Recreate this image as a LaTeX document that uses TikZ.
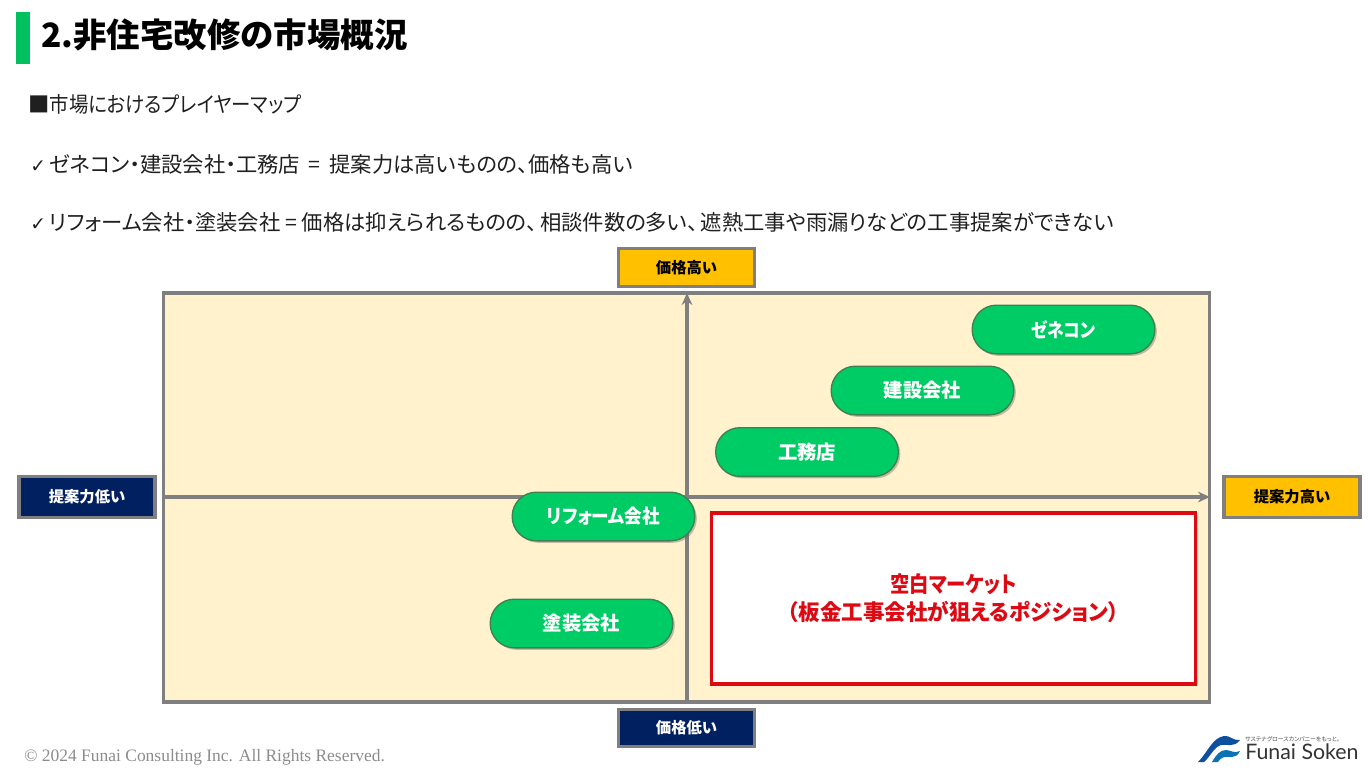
\documentclass[tikz,border=0pt]{standalone}
\usepackage{fontspec}
\setmainfont[RawFeature=+palt]{Noto Sans CJK JP}
\newfontfamily\serifnote{Liberation Serif}
\newfontfamily\logofont{Lato}
\newfontfamily\checkfont{DejaVu Sans}
\usetikzlibrary{shapes.misc,shadows,arrows.meta}
\definecolor{barGreen}{HTML}{00C060}
\definecolor{pillGreen}{HTML}{00CC66}
\definecolor{pillEdge}{HTML}{3F8050}
\definecolor{mapCream}{HTML}{FFF2CC}
\definecolor{axisGray}{HTML}{7F7F7F}
\definecolor{tagNavy}{HTML}{002060}
\definecolor{tagAmber}{HTML}{FFC000}
\definecolor{gapRed}{HTML}{DD0A14}
\definecolor{logoBlue}{HTML}{0F4FA0}
\newcommand{\tick}{{\checkfont\fontsize{14}{14}\selectfont ✓}}
\newcommand{\narrow}[2]{\scalebox{#1}[1]{#2}}
\tikzset{
	pill/.style={rounded rectangle,draw=pillEdge,line width=1pt,fill=pillGreen,text=white,
		minimum width=137pt,minimum height=36.5pt,inner sep=0pt,
		font=\fontsize{14.5}{14.5}\selectfont\bfseries,
		drop shadow={shadow xshift=1.5pt,shadow yshift=-1.5pt,opacity=.4,fill=black!60}},
	tag/.style={draw=axisGray,line width=2.4pt,minimum width=102pt,inner sep=0pt,
		font=\fontsize{11.5}{11.5}\selectfont\bfseries},
	bodyline/.style={anchor=west,inner sep=0pt,text=black!88,font=\fontsize{16}{16}\selectfont},
}
\begin{document}
\begin{tikzpicture}[x=.75pt,y=-.75pt,>={Stealth[length=9pt,width=8pt]}]
	\useasboundingbox (0,0) rectangle (1371,772);
	% heading
	\fill[barGreen] (16,12) rectangle (30,64);
	\node[anchor=west,inner sep=0pt,font=\fontsize{25.1}{25.1}\selectfont\bfseries] (title) at (41,35) {2.非住宅改修の市場概況};
	\node[bodyline] (lead) at (28,104) {■\narrow{.91}{市場におけるプレイヤーマップ}};
	\node[bodyline] (first) at (30,164) {\tick\,ゼネコン・建設会社・工務店\hspace{3pt} = \hspace{3pt}提案力は高いものの、価格も高い};
	\node[bodyline] (second) at (30,222) {\tick\,リフォーム会社・塗装会社 = 価格は抑えられるものの、\hspace{2pt}相談件数の多い、\hspace{2pt}遮熱工事や雨漏りなどの工事提案ができない};
	% map
	\draw[axisGray,line width=2.4pt,fill=mapCream] (163.5,293) rectangle (1209.5,702);
	\coordinate (left) at (163,497);
	\coordinate (right) at (1210,497);
	\coordinate (bottom) at (687,702);
	\coordinate (top) at (687,293);
	\draw[->,axisGray,line width=2.3pt] (left)--(right);
	\draw[->,axisGray,line width=2.3pt] (bottom)--(top);
	% axis ends
	\node[tag,fill=tagAmber,minimum height=28pt] (high) at (686.5,267.5) {価格高い};
	\node[tag,fill=tagNavy,text=white,minimum height=28pt] (low) at (686.5,728) {価格低い};
	\node[tag,fill=tagNavy,text=white,minimum height=31pt] (weak) at (87,497) {提案力低い};
	\node[tag,fill=tagAmber,minimum height=31pt] (strong) at (1292,497) {提案力高い};
	% players
	\node[pill] (zenecon) at (1063.5,329.5) {\narrow{.86}{ゼネコン}};
	\node[pill] (kensetsu) at (922.5,390.5) {建設会社};
	\node[pill] (koumuten) at (807,452) {工務店};
	\node[pill] (reform) at (603.5,516.5) {\narrow{.91}{リフォーム会社}};
	\node[pill] (tosou) at (581.5,623.5) {塗装会社};
	% gap
	\node[draw=gapRed,line width=2.6pt,fill=white,minimum width=363pt,minimum height=128pt,inner sep=0pt,
		align=center,text=gapRed,font=\fontsize{16.5}{21}\selectfont\bfseries,
		drop shadow={shadow xshift=1.5pt,shadow yshift=-1.5pt,opacity=.3,fill=black!60}] (gap) at (953.5,598.5)
		{\narrow{.88}{空白マーケット}\\\narrow{.98}{（板金工事会社が狙えるポジション）}};
	% footer
	\node[anchor=west,inner sep=0pt,text=black!45,font=\serifnote\fontsize{13.1}{13.1}\selectfont] (copy) at (24,757) {© 2024 Funai Consulting Inc. All Rights Reserved.};
	% logo
	\fill[logoBlue] (1198,762) .. controls (1208,752) and (1212,738) .. (1224,736) .. controls (1230,735) and (1233,741) .. (1240,740) .. controls (1234,748) and (1227,744) .. (1221,745) .. controls (1214,747) and (1210,757) .. (1204,762) -- cycle;
	\fill[logoBlue!80!cyan] (1212,762) .. controls (1216,755) and (1220,750) .. (1226,750) .. controls (1231,750) and (1234,754) .. (1240,751) .. controls (1236,760) and (1228,756) .. (1224,757) .. controls (1221,758) and (1219,760) .. (1218,762) -- cycle;
	\node[anchor=west,inner sep=0pt,text=black!80,font=\logofont\fontsize{16}{16}\selectfont] (brand) at (1245,752) {Funai Soken};
	\node[anchor=west,inner sep=0pt,text=black!70,font=\fontsize{4.4}{4.4}\selectfont] (slogan) at (1245,739) {サステナグロースカンパニーをもっと。};
\end{tikzpicture}
\end{document}
